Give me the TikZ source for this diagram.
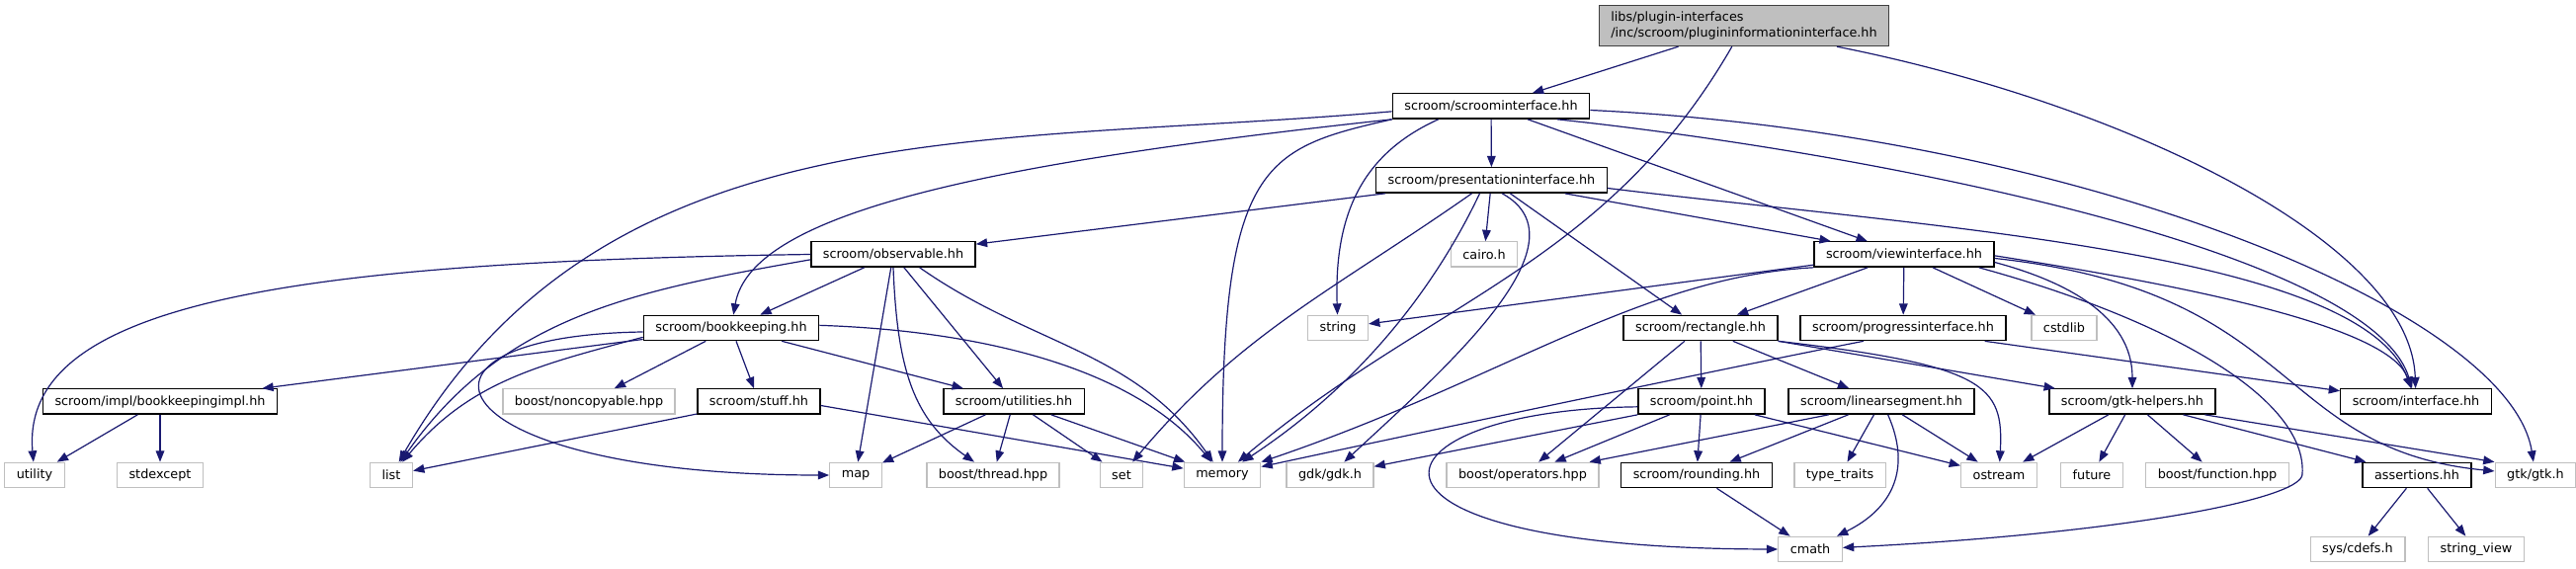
\documentclass[tikz,border=0pt]{standalone}
\usepackage{fontspec}
\setmainfont{DejaVu Sans}
\usepackage{tikz}
\usetikzlibrary{
  arrows.meta,          % arrow tips
  positioning,          % relative node placement
}
\definecolor{edgeblue}{RGB}{25,25,112}
\definecolor{grey75}{gray}{0.75}
\definecolor{grey25}{gray}{0.25}

\begin{document}
\begin{tikzpicture}[
  x=0.75pt, y=0.75pt,
  box/.style={draw, line width=1pt, fill=white, minimum height=19pt,
    inner xsep=9pt, inner ysep=2pt, font=\fontsize{9.6}{11.5}\selectfont},
  docnode/.style={box, draw=black},
  extnode/.style={box, draw=grey75},
  rootnode/.style={box, draw=grey25, fill=grey75, align=left, minimum height=30.75pt},
  incl/.style={draw=edgeblue, line width=0.9pt, -{Triangle[length=8.5pt,width=6.5pt]}},
]
  \fill[white] (0,0) rectangle (2607,575);
  \useasboundingbox (0,0) rectangle (2607,575);
  % Top file
  \node[rootnode] (root) at (1765,549) {libs/plugin-interfaces\\/inc/scroom/plugininformationinterface.hh};
  % Row 1 and 2
  \node[docnode] (scroomif)       at (1509,467.5)  {scroom/scroominterface.hh};
  \node[docnode] (presentationif) at (1509.5,392.5) {scroom/presentationinterface.hh};
  % Row 3
  \node[docnode] (observable) at (904,317.5)  {scroom/observable.hh};
  \node[extnode] (cairo)      at (1502,317.5) {cairo.h};
  \node[docnode] (viewif)     at (1927,317.5) {scroom/viewinterface.hh};
  % Row 4
  \node[docnode] (bookkeeping) at (740,243)  {scroom/bookkeeping.hh};
  \node[extnode] (string)      at (1354,243) {string};
  \node[docnode] (rectangle)   at (1721,243) {scroom/rectangle.hh};
  \node[docnode] (progressif)  at (1926,243) {scroom/progressinterface.hh};
  \node[extnode] (cstdlib)     at (2089,243) {cstdlib};
  % Row 5
  \node[docnode] (bookkeepingimpl) at (162,168.5)  {scroom/impl/bookkeepingimpl.hh};
  \node[extnode] (noncopyable)     at (596,168.5)  {boost/noncopyable.hpp};
  \node[docnode] (stuff)           at (768,168.5)  {scroom/stuff.hh};
  \node[docnode] (utilities)       at (1026,168.5) {scroom/utilities.hh};
  \node[docnode] (point)           at (1722,168.5) {scroom/point.hh};
  \node[docnode] (linearsegment)   at (1904,168.5) {scroom/linearsegment.hh};
  \node[docnode] (gtkhelpers)      at (2158,168.5) {scroom/gtk-helpers.hh};
  \node[docnode] (interface)       at (2445,168.5) {scroom/interface.hh};
  % Row 6
  \node[extnode] (utility)       at (35,94)   {utility};
  \node[extnode] (stdexcept)     at (162,94)  {stdexcept};
  \node[extnode] (list)          at (396,94)  {list};
  \node[extnode] (map)           at (866,94)  {map};
  \node[extnode] (boostthread)   at (1005,94) {boost/thread.hpp};
  \node[extnode] (set)           at (1135,94) {set};
  \node[extnode] (memory)        at (1237,94) {memory};
  \node[extnode] (gdk)           at (1346,94) {gdk/gdk.h};
  \node[extnode] (operators)     at (1541,94) {boost/operators.hpp};
  \node[docnode] (rounding)      at (1717,94) {scroom/rounding.hh};
  \node[extnode] (typetraits)    at (1862,94) {type\_traits};
  \node[extnode] (ostream)       at (2023,94) {ostream};
  \node[extnode] (future)        at (2117,94) {future};
  \node[extnode] (boostfunction) at (2244,94) {boost/function.hpp};
  \node[docnode] (assertions)    at (2446,94) {assertions.hh};
  \node[extnode] (gtk)           at (2566,94) {gtk/gtk.h};
  % Row 7
  \node[extnode] (cmath)      at (1832,19) {cmath};
  \node[extnode] (sysdefs)    at (2386,19) {sys/cdefs.h};
  \node[extnode] (stringview) at (2506,19) {string\_view};
  \coordinate (cmathbend) at (2330,95);

  % plugininformationinterface.hh
  \draw[incl] (root) -- (scroomif);
  \draw[incl] (root) to[out=-120,in=40] (memory);
  \draw[incl] ([xshift=-40pt]root.south east) .. controls (2150,470) and (2440,330) .. (interface);
  % scroominterface.hh
  \draw[incl] ([yshift=-4pt]scroomif.west) to[out=185,in=60] (list);
  \draw[incl] (scroomif.south west) .. controls (1000,410) and (760,360) .. (bookkeeping);
  \draw[incl] (scroomif) -- (presentationif);
  \draw[incl] (scroomif.south west) .. controls (1280,425) and (1237,410) .. (memory);
  \draw[incl] ([xshift=-40pt]scroomif.south) .. controls (1380,420) and (1350,360) .. (string);
  \draw[incl] (scroomif) -- (viewif);
  \draw[incl] ([xshift=-25pt]scroomif.south east) .. controls (1900,420) and (2400,320) .. (interface);
  \draw[incl] ([yshift=-3pt]scroomif.east) .. controls (2100,440) and (2540,260) .. (gtk);
  % presentationinterface.hh
  \draw[incl] (presentationif) -- (observable);
  \draw[incl] ([xshift=-15pt]presentationif.south) to[out=-145,in=50] (set);
  \draw[incl] ([xshift=-9pt]presentationif.south) .. controls (1460,300) and (1390,195) .. (memory);
  \draw[incl] (presentationif) -- (cairo);
  \draw[incl] ([xshift=8pt]presentationif.south) .. controls (1610,330) and (1460,200) .. (gdk);
  \draw[incl] (presentationif) -- (rectangle);
  \draw[incl] (presentationif) -- (viewif);
  \draw[incl] ([yshift=-6pt]presentationif.east) .. controls (1950,345) and (2390,320) .. (interface);
  % observable.hh
  \draw[incl] (observable.west) .. controls (300,310) and (20,270) .. (utility);
  \draw[incl] ([yshift=-4pt]observable.west) to[out=190,in=55] (list);
  \draw[incl] (observable) -- (bookkeeping);
  \draw[incl] (observable) -- (map);
  \draw[incl] (observable.south) .. controls (908,200) and (925,150) .. (boostthread);
  \draw[incl] (observable) -- (utilities);
  \draw[incl] ([xshift=20pt]observable.south) to[out=-35,in=125] (memory);
  % viewinterface.hh
  \draw[incl] ([yshift=2pt]viewif.south west) -- (string);
  \draw[incl] (viewif.south west) .. controls (1660,295) and (1520,190) .. (memory);
  \draw[incl] (viewif) -- (rectangle);
  \draw[incl] (viewif) -- (progressif);
  \draw[incl] (viewif) -- (cstdlib);
  \draw[incl] ([yshift=-6pt]viewif.east) to[out=-15,in=90] (gtkhelpers);
  \draw[incl] ([xshift=-12pt]viewif.south east) .. controls (2200,250) and (2335,170) .. (cmathbend)
    .. controls (2330,70) and (2150,35) .. (cmath);
  \draw[incl] ([yshift=-1pt]viewif.east) .. controls (2250,280) and (2420,240) .. (interface);
  \draw[incl] ([yshift=-3pt]viewif.east) .. controls (2330,280) and (2300,120) .. (gtk);
  % bookkeeping.hh
  \draw[incl] (bookkeeping) -- (bookkeepingimpl);
  \draw[incl] ([yshift=-7pt]bookkeeping.west) to[out=195,in=50] (list);
  \draw[incl] ([yshift=-3pt]bookkeeping.west) .. controls (380,235) and (440,94) .. (map.west);
  \draw[incl] (bookkeeping) -- (noncopyable);
  \draw[incl] (bookkeeping) -- (stuff);
  \draw[incl] (bookkeeping) -- (utilities);
  \draw[incl] ([yshift=2pt]bookkeeping.east) .. controls (1000,240) and (1150,200) .. (memory);
  % rectangle.hh and progressinterface.hh
  \draw[incl] (rectangle) -- (operators);
  \draw[incl] (rectangle) -- (point);
  \draw[incl] (rectangle) -- (linearsegment);
  \draw[incl] (rectangle.south east) .. controls (2010,205) and (2028,185) .. (ostream);
  \draw[incl] (rectangle.south east) -- (gtkhelpers);
  \draw[incl] ([xshift=-30pt]progressif.south) .. controls (1760,205) and (1450,140) .. (memory);
  \draw[incl] ([xshift=62pt]progressif.south) -- (interface);
  % row 5 files
  \draw[incl] (bookkeepingimpl) -- (utility);
  \draw[incl] (bookkeepingimpl) -- (stdexcept);
  \draw[incl] (stuff) -- (list);
  \draw[incl] ([yshift=-3pt]stuff.east) -- (memory);
  \draw[incl] (utilities) -- (map);
  \draw[incl] (utilities) -- (boostthread);
  \draw[incl] (utilities) -- (set);
  \draw[incl] (utilities) -- (memory);
  \draw[incl] ([yshift=-4pt]point.west) .. controls (1380,160) and (1330,20) .. (cmath.west);
  \draw[incl] (point.south west) -- (gdk);
  \draw[incl] (point) -- (operators);
  \draw[incl] (point) -- (rounding);
  \draw[incl] (point) -- (ostream);
  \draw[incl] ([xshift=-40pt]linearsegment.south) -- (operators);
  \draw[incl] (linearsegment) -- (rounding);
  \draw[incl] (linearsegment) -- (typetraits);
  \draw[incl] ([xshift=5pt]linearsegment.south) .. controls (1935,100) and (1915,60) .. (cmath);
  \draw[incl] (linearsegment) -- (ostream);
  \draw[incl] (gtkhelpers) -- (ostream);
  \draw[incl] (gtkhelpers) -- (future);
  \draw[incl] (gtkhelpers) -- (boostfunction);
  \draw[incl] (gtkhelpers) -- (assertions);
  \draw[incl] ([xshift=55pt]gtkhelpers.south) -- (gtk.north west);
  % row 6 files
  \draw[incl] (rounding) -- (cmath);
  \draw[incl] (assertions) -- (sysdefs);
  \draw[incl] (assertions) -- (stringview);
\end{tikzpicture}
\end{document}
